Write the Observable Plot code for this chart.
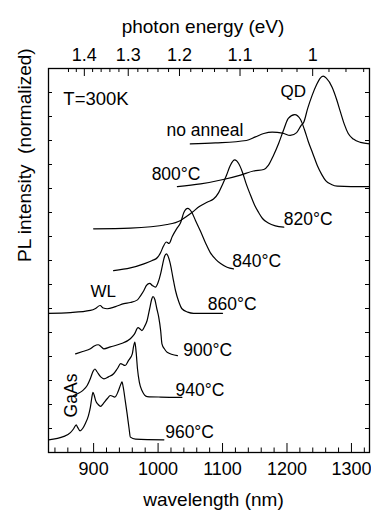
<!DOCTYPE html>
<html><head><meta charset="utf-8">
<script src="https://cdn.jsdelivr.net/npm/d3@7"></script>
<script src="https://cdn.jsdelivr.net/npm/@observablehq/plot@0.6"></script>
<style>
body{margin:0;background:#fff;}
</style>
</head><body><div id="chart"></div>
<script>
// ---- data (wavelength nm, normalized PL intensity incl. vertical offset) ----
const seriesNames = ["no anneal","800°C","820°C","840°C","860°C","900°C","940°C","960°C"];
const noAnnealWl = [1050,1089,1137,1151,1164,1177,1193,1205,1215,1222,1226,1232,1239,1246,1251,1256,1261,1270,1277,1283,1289,1295,1303,1314,1328];
const noAnnealPL = [12.86,12.90,13.0,13.15,13.29,13.35,13.31,13.21,13.33,13.63,13.76,14.33,14.88,15.33,15.58,15.68,15.60,15.22,14.71,14.18,13.67,13.29,13.06,12.92,12.86];
const a800Wl = [1030,1066,1101,1128,1148,1164,1171,1179,1187,1195,1202,1212,1221,1227,1233,1240,1247,1254,1260,1269,1278,1299,1328];
const a800PL = [11.08,11.19,11.375,11.56,11.73,11.79,11.96,12.375,12.875,13.46,13.92,14.08,13.875,13.46,12.96,12.46,11.96,11.58,11.33,11.17,11.10,11.08,11.08];
const a820Wl = [900,957,1014,1035,1044,1053,1064,1076,1086,1094,1100,1106,1112,1119,1125,1131,1137,1143,1150,1156,1162,1171,1182,1195];
const a820PL = [9.32,9.35,9.5,9.67,9.83,10.01,10.25,10.43,10.56,10.83,11.17,11.54,11.96,12.19,12.04,11.67,11.17,10.75,10.29,10.0,9.75,9.56,9.44,9.39];
const a840Wl = [931,957,978,991,999,1004,1008,1013,1017,1022,1029,1035,1040,1046,1052,1058,1066,1074,1081,1089,1097,1107,1117];
const a840PL = [7.58,7.69,7.86,8.0,8.125,8.33,8.58,8.77,8.71,9.0,9.33,9.58,10.0,10.17,10.02,9.67,9.21,8.71,8.33,8.06,7.875,7.72,7.65];
const a860Wl = [830,864,895,903,910,915,921,934,947,957,968,973,978,982,987,991,996,1000,1004,1007,1010,1013,1015,1019,1023,1027,1032,1037,1046,1055,1100];
const a860PL = [5.80,5.83,5.92,6.0,6.125,6.02,5.99,6.08,6.20,6.25,6.36,6.54,6.75,6.96,7.05,6.96,6.89,7.08,7.45,7.83,8.17,8.28,8.21,7.86,7.29,6.75,6.29,5.99,5.85,5.80,5.80];
const a900Wl = [872,883,895,901,907,912,916,926,942,957,963,969,972,975,979,983,987,990,992,995,998,1001,1004,1006,1010,1014,1030];
const a900PL = [4.11,4.21,4.32,4.44,4.49,4.40,4.32,4.40,4.53,4.74,4.92,5.20,5.15,5.08,5.25,5.5,6.0,6.375,6.5,6.375,6.0,5.64,5.08,4.53,4.31,4.18,4.04];
const a940Wl = [869,875,883,890,895,899,902,905,911,916,923,931,937,942,946,949,954,960,962,964,966,968,971,975,983,1004,1037];
const a940PL = [2.375,2.45,2.58,2.79,3.08,3.375,3.48,3.375,3.15,3.07,3.15,3.28,3.5,3.70,3.65,3.625,3.83,4.11,4.42,4.60,4.17,3.5,2.92,2.58,2.33,2.31,2.30];
const a960Wl = [830,854,864,869,873,875,879,883,887,892,895,897,899,901,903,907,911,915,921,926,933,938,942,944,946,949,952,955,957,965,1009];
const a960PL = [0.53,0.67,0.83,0.99,1.15,1.06,0.90,1.0,1.20,1.54,1.89,2.25,2.51,2.375,2.17,2.0,1.92,2.04,2.24,2.375,2.31,2.54,2.83,2.94,2.71,2.17,1.61,1.0,0.64,0.56,0.53];

// curve labels
const labelWl = [1013, 990, 1195, 1115, 1077, 1039, 1027, 1011];
const labelPL = [13.42, 11.58, 9.71, 7.96, 6.17, 4.25, 2.58, 0.83];
// annotations
const noteText = ["QD", "WL"];
const noteWl = [1190, 895];
const notePL = [15.04, 6.71];
const tempText = ["T=300K"];
const tempWl = [853];
const tempPL = [14.71];
const gaasText = ["GaAs"];
const gaasWl = [866];
const gaasPL = [2.375];

// axes
const wlMajor = [900, 1000, 1100, 1200, 1300];
const wlMinor = d3.range(840, 1321, 20).filter(d => d % 100 !== 0);
const hc = 1239.84;
const eMajor = [1.4, 1.3, 1.2, 1.1, 1.0];
const eLabels = ["1.4", "1.3", "1.2", "1.1", "1"];
const eMinor = d3.range(94, 145, 2).map(d => d / 100).filter(e => !eMajor.some(m => Math.abs(m - e) < 1e-6));
const yTicks = d3.range(1, 16, 1);

// ---- build ----
const wls = [noAnnealWl, a800Wl, a820Wl, a840Wl, a860Wl, a900Wl, a940Wl, a960Wl];
const pls = [noAnnealPL, a800PL, a820PL, a840PL, a860PL, a900PL, a940PL, a960PL];
const curves = seriesNames.flatMap((s, k) => wls[k].map((w, i) => ({series: s, wl: w, pl: pls[k][i]})));
const labels = seriesNames.map((s, i) => ({text: s, wl: labelWl[i], pl: labelPL[i]}));
const notes = noteText.map((t, i) => ({text: t, wl: noteWl[i], pl: notePL[i]}));
const temp = tempText.map((t, i) => ({text: t, wl: tempWl[i], pl: tempPL[i]}));
const gaas = gaasText.map((t, i) => ({text: t, wl: gaasWl[i], pl: gaasPL[i]}));
const eMajorWl = eMajor.map(e => hc / e);
const eMinorWl = eMinor.map(e => hc / e);

const W = 371, H = 513, mL = 48, mR = 2, mT = 68, mB = 61;
const fw = W - mL - mR, fh = H - mT - mB;

const chart = Plot.plot({
  width: W, height: H,
  marginLeft: mL, marginRight: mR, marginTop: mT, marginBottom: mB,
  x: {domain: [830, 1328]},
  y: {domain: [0, 16], axis: null},
  style: {fontFamily: "'Liberation Sans', Arial, Helvetica, sans-serif", fontSize: "17px", color: "black", background: "white"},
  marks: [
    Plot.frame({stroke: "black", strokeWidth: 1.3}),
    Plot.ruleX(wlMajor, {x: d => d, insetTop: fh - 9, stroke: "black"}),
    Plot.ruleX(wlMinor, {x: d => d, insetTop: fh - 4.5, stroke: "black"}),
    Plot.ruleX(eMajorWl, {x: d => d, insetBottom: fh - 8, stroke: "black"}),
    Plot.ruleX(eMinorWl, {x: d => d, insetBottom: fh - 4, stroke: "black"}),
    Plot.ruleY(yTicks, {y: d => d, insetRight: fw - 4, stroke: "black"}),
    Plot.ruleY(yTicks, {y: d => d, insetLeft: fw - 4, stroke: "black"}),
    Plot.axisX({ticks: wlMajor, anchor: "bottom", tickSize: 0, tickPadding: 10, label: null, tickFormat: d3.format("d"), fontSize: 18}),
    Plot.axisX({ticks: eMajorWl, anchor: "top", tickSize: 0, tickPadding: 8, label: null, tickFormat: d => eLabels[eMajorWl.indexOf(d)], fontSize: 18}),
    Plot.line(curves, {x: "wl", y: "pl", z: "series", stroke: "black", strokeWidth: 1.2, curve: "monotone-x"}),
    Plot.text(labels, {x: "wl", y: "pl", text: "text", textAnchor: "start", fontSize: 17.5, ariaLabel: "curve-labels"}),
    Plot.text(notes, {x: "wl", y: "pl", text: "text", textAnchor: "start", fontSize: 17, ariaLabel: "notes"}),
    Plot.text(temp, {x: "wl", y: "pl", text: "text", textAnchor: "start", fontSize: 18.5, ariaLabel: "temp"}),
    Plot.text(gaas, {x: "wl", y: "pl", text: "text", rotate: -90, fontSize: 17.5, ariaLabel: "gaas"}),
    Plot.text(["photon energy (eV)"], {frameAnchor: "top", dx: -6, dy: -49, fontSize: 19, ariaLabel: "titles"}),
    Plot.text(["wavelength (nm)"], {frameAnchor: "bottom", dx: 4.5, dy: 53, fontSize: 19, ariaLabel: "titles"}),
    Plot.text(["PL intensity\u00a0 (normalized)"], {frameAnchor: "left", rotate: -90, dx: -24, dy: 1.5, fontSize: 19, ariaLabel: "titles"})
  ]
});
document.getElementById("chart").appendChild(chart);

function stretch(label, k) {
  chart.querySelectorAll(`g[aria-label="${label}"] text`).forEach(t => {
    const x = +t.getAttribute("x") || 0, y = +t.getAttribute("y") || 0;
    const tr = t.getAttribute("transform") || "";
    t.setAttribute("transform", `${tr} translate(${x},${y}) scale(${k},1) translate(${-x},${-y})`);
  });
}
stretch("titles", 1.09);
stretch("temp", 1.22);
stretch("curve-labels", 1.03);
stretch("gaas", 1.08);
</script>
</body></html>
